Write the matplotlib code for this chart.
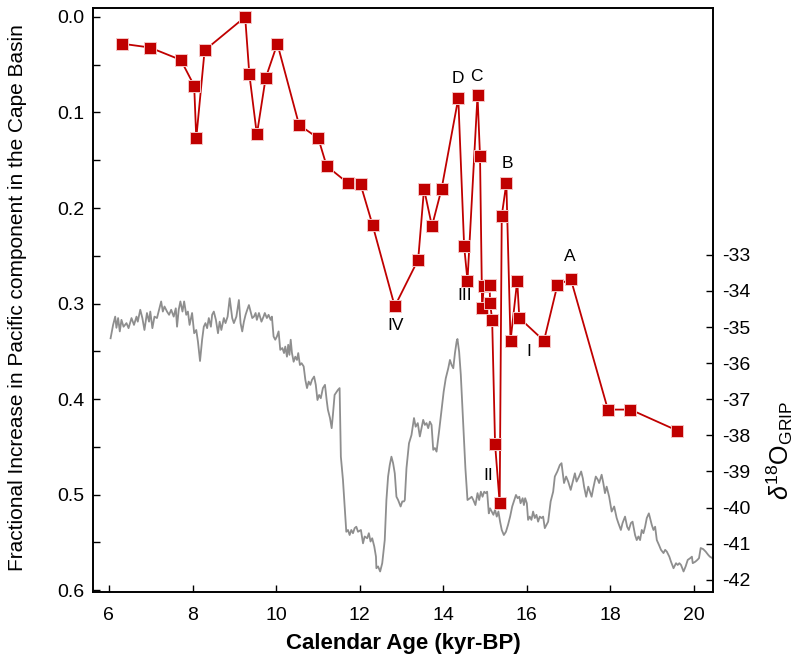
import matplotlib
matplotlib.use("Agg")
import matplotlib.pyplot as plt
from matplotlib.ticker import MultipleLocator, FixedLocator, FormatStrFormatter

plt.rcParams['font.family'] = ['Liberation Sans', 'DejaVu Sans']
plt.rcParams['mathtext.fontset'] = 'custom'
plt.rcParams['mathtext.rm'] = 'Liberation Sans'
plt.rcParams['mathtext.it'] = 'Liberation Sans:italic'

# Cape Basin Pacific component (left axis, inverted)
age_cape = [6.31, 6.98, 7.72, 8.04, 8.09, 8.29, 9.26, 9.36, 9.54, 9.75, 10.03,
            10.55, 11.01, 11.21, 11.72, 12.02, 12.31, 12.84, 13.40, 13.54, 13.73,
            13.96, 14.36, 14.50, 14.58, 14.82, 14.88, 14.93, 14.97, 15.11, 15.12,
            15.17, 15.24, 15.35, 15.40, 15.51, 15.61, 15.77, 15.82, 16.41, 16.73,
            17.05, 17.94, 18.48, 19.60]
pacific = [0.028, 0.032, 0.045, 0.072, 0.127, 0.035, 0.0, 0.060, 0.123, 0.064, 0.028,
           0.113, 0.127, 0.156, 0.174, 0.175, 0.218, 0.303, 0.254, 0.180, 0.219,
           0.180, 0.085, 0.240, 0.276, 0.082, 0.146, 0.305, 0.282, 0.281, 0.299,
           0.317, 0.447, 0.509, 0.208, 0.174, 0.339, 0.276, 0.315, 0.339, 0.281,
           0.274, 0.411, 0.411, 0.433]

event_labels = ['D', 'C', 'B', 'A', 'III', 'IV', 'II', 'I']
event_age = [14.36, 14.80, 15.54, 17.03, 14.52, 12.86, 15.07, 16.05]
event_val = [0.064, 0.062, 0.153, 0.251, 0.292, 0.3225, 0.4796, 0.3497]

# GRIP d18O (right axis)
age_grip = [6.04, 6.10, 6.15, 6.18, 6.22, 6.26, 6.30, 6.35, 6.42, 6.47, 6.54, 6.60,
            6.66, 6.69, 6.75, 6.80, 6.85, 6.91, 6.96, 6.99, 7.04, 7.09, 7.15, 7.20,
            7.25, 7.29, 7.33, 7.39, 7.44, 7.49, 7.55, 7.60, 7.63, 7.67, 7.71, 7.76,
            7.80, 7.85, 7.89, 7.93, 7.99, 8.04, 8.09, 8.13, 8.18, 8.23, 8.27, 8.31,
            8.35, 8.39, 8.44, 8.47, 8.51, 8.56, 8.61, 8.65, 8.69, 8.75, 8.79, 8.84,
            8.89, 8.95, 8.99, 9.05, 9.11, 9.15, 9.19, 9.23, 9.27, 9.31, 9.35, 9.39,
            9.43, 9.47, 9.51, 9.54, 9.59, 9.65, 9.70, 9.73, 9.78, 9.82, 9.87, 9.90,
            9.94, 9.98, 10.02, 10.06, 10.10, 10.15, 10.19, 10.22, 10.26, 10.29, 10.32,
            10.35, 10.38, 10.42, 10.46, 10.50, 10.53, 10.57, 10.61, 10.66, 10.70,
            10.74, 10.78, 10.82, 10.86, 10.91, 10.95, 10.99, 11.03, 11.07, 11.12,
            11.17, 11.21, 11.24, 11.29, 11.33, 11.36, 11.40, 11.45, 11.48, 11.52,
            11.55, 11.60, 11.64, 11.68, 11.72, 11.76, 11.80, 11.84, 11.88, 11.92,
            11.96, 12.03, 12.08, 12.12, 12.18, 12.22, 12.26, 12.30, 12.35, 12.39,
            12.40, 12.44, 12.49, 12.54, 12.60, 12.64, 12.68, 12.72, 12.76, 12.80,
            12.84, 12.88, 12.92, 12.98, 13.02, 13.06, 13.08, 13.12, 13.18, 13.24,
            13.30, 13.34, 13.39, 13.44, 13.48, 13.52, 13.56, 13.60, 13.64, 13.68,
            13.72, 13.76, 13.80, 13.84, 13.90, 13.96, 14.01, 14.06, 14.12, 14.16,
            14.20, 14.24, 14.28, 14.32, 14.34, 14.38, 14.42, 14.48, 14.53, 14.58,
            14.64, 14.68, 14.72, 14.77, 14.82, 14.86, 14.90, 14.94, 14.98, 15.02,
            15.05, 15.09, 15.12, 15.16, 15.20, 15.24, 15.28, 15.32, 15.36, 15.40,
            15.45, 15.50, 15.55, 15.60, 15.65, 15.70, 15.74, 15.78, 15.82, 15.85,
            15.90, 15.93, 15.96, 16.00, 16.03, 16.07, 16.11, 16.15, 16.19, 16.23,
            16.27, 16.31, 16.35, 16.39, 16.43, 16.47, 16.51, 16.57, 16.63, 16.67,
            16.73, 16.79, 16.83, 16.89, 16.94, 16.99, 17.05, 17.10, 17.15, 17.19,
            17.25, 17.30, 17.34, 17.37, 17.42, 17.47, 17.51, 17.55, 17.59, 17.65,
            17.70, 17.73, 17.79, 17.83, 17.87, 17.91, 17.97, 18.03, 18.09, 18.15,
            18.19, 18.25, 18.29, 18.35, 18.40, 18.44, 18.49, 18.53, 18.59, 18.63,
            18.67, 18.71, 18.75, 18.79, 18.83, 18.87, 18.92, 18.99, 19.03, 19.07,
            19.11, 19.16, 19.21, 19.27, 19.31, 19.35, 19.41, 19.45, 19.51, 19.57,
            19.61, 19.65, 19.69, 19.75, 19.80, 19.85, 19.91, 19.95, 19.97, 20.03,
            20.08, 20.12, 20.16, 20.22, 20.28, 20.34, 20.38, 20.44]
d18o = [-35.31, -34.94, -34.71, -35.02, -34.75, -35.12, -34.80, -34.99, -34.89, -35.03,
        -34.75, -34.94, -34.71, -34.85, -34.52, -34.75, -35.08, -34.61, -34.85, -34.57,
        -35.03, -34.71, -34.75, -34.52, -34.29, -34.57, -34.43, -34.57, -34.66, -34.52,
        -34.71, -34.48, -34.99, -34.52, -34.29, -34.57, -34.29, -34.66, -34.57, -34.94,
        -34.61, -35.17, -35.08, -35.40, -35.94, -35.35, -34.99, -34.89, -35.03, -34.75,
        -34.99, -34.66, -34.57, -34.80, -35.17, -34.85, -35.08, -34.75, -34.89, -34.71,
        -34.20, -34.75, -34.89, -34.71, -34.25, -34.89, -35.12, -34.85, -34.66, -34.52,
        -34.39, -34.57, -34.75, -34.71, -34.61, -34.80, -34.61, -34.85, -34.71, -34.61,
        -34.75, -34.66, -34.80, -34.71, -35.26, -35.35, -35.26, -35.12, -35.63, -35.58,
        -35.72, -35.54, -35.82, -35.49, -35.77, -35.35, -35.72, -35.96, -35.82, -35.91,
        -35.72, -36.05, -36.00, -36.09, -36.46, -36.69, -36.51, -36.60, -36.46, -36.37,
        -36.60, -37.02, -36.88, -36.97, -36.69, -36.60, -37.02, -37.29, -37.52, -37.80,
        -37.43, -36.88, -36.79, -36.74, -36.69, -38.59, -39.23, -39.97, -40.67, -40.62,
        -40.76, -40.62, -40.71, -40.57, -40.53, -40.67, -40.62, -40.99, -40.80, -40.85,
        -40.71, -40.94, -40.85, -41.08, -41.36, -41.68, -41.63, -41.77, -41.54, -40.90,
        -39.79, -39.14, -38.82, -38.59, -38.77, -39.05, -39.70, -39.79, -39.97, -39.83,
        -39.83, -39.79, -38.91, -38.22, -37.99, -37.52, -37.76, -37.66, -38.03, -37.80,
        -37.57, -37.71, -37.66, -37.80, -37.62, -37.71, -38.40, -38.35, -38.45, -37.89,
        -37.29, -36.79, -36.42, -36.14, -35.91, -36.05, -36.14, -35.72, -35.40, -35.33,
        -35.68, -36.32, -37.71, -38.91, -39.79, -39.74, -39.70, -39.79, -39.93, -39.60,
        -39.79, -39.56, -39.70, -39.56, -39.60, -39.56, -40.16, -40.02, -40.11, -40.20,
        -40.06, -40.25, -40.11, -40.39, -40.62, -40.76, -40.67, -40.48, -40.25, -39.97,
        -39.79, -39.65, -39.74, -39.70, -39.88, -39.74, -39.93, -39.74, -39.88, -40.34,
        -40.25, -40.34, -40.11, -40.29, -40.20, -40.39, -40.25, -40.29, -40.25, -40.57,
        -40.48, -40.39, -39.83, -39.56, -39.14, -39.00, -38.82, -38.77, -39.32, -39.14,
        -39.28, -39.51, -39.28, -39.05, -39.28, -39.14, -39.00, -39.19, -39.42, -39.70,
        -39.42, -39.56, -39.70, -39.46, -39.14, -39.23, -39.32, -39.09, -39.32, -39.60,
        -39.42, -39.70, -40.11, -39.97, -40.29, -40.43, -40.62, -40.43, -40.25, -40.53,
        -40.62, -40.43, -40.39, -40.76, -40.90, -40.80, -40.90, -40.62, -40.71, -40.53,
        -40.29, -40.16, -40.48, -40.62, -40.53, -40.90, -41.03, -41.17, -41.26, -41.17,
        -41.22, -41.36, -41.50, -41.68, -41.54, -41.59, -41.54, -41.59, -41.77, -41.63,
        -41.45, -41.40, -41.36, -41.54, -41.50, -41.45, -41.40, -41.12, -41.15, -41.22,
        -41.31, -41.36, -41.40]

grip_ticks = [-33, -34, -35, -36, -37, -38, -39, -40, -41, -42]

fig = plt.figure(figsize=(8, 6.63), dpi=100)
ax = fig.add_axes([0.1163, 0.107, 0.7747, 0.881])
ax2 = ax.twinx()

ax2.plot(age_grip, d18o, color='#8e8e8e', lw=1.3)
ax2.set_ylim(-42.34, -26.16)
ax2.yaxis.set_major_locator(FixedLocator(grip_ticks))
ax2.set_yticklabels([str(t) for t in grip_ticks])
ax2.tick_params(axis='y', direction='in', length=5, width=1, labelsize=14, pad=7)
ax2.set_ylabel(r'$\delta^{18}$O$_{\mathrm{GRIP}}$', fontsize=18)
ax2.yaxis.set_label_coords(1.084, 0.243)

ax.set_zorder(ax2.get_zorder() + 1)
ax.patch.set_visible(False)

ax.plot(age_cape, pacific, color='#c00000', lw=1.3, marker='s', markersize=8,
        markerfacecolor='#c00000', markeredgecolor='#f4c4c4', markeredgewidth=0.7)
for lab, xa, ya in zip(event_labels, event_age, event_val):
    ax.text(xa, ya, lab, ha='center', va='center', fontsize=12.5)

ax.set_xlim(5.62, 20.45)
ax.set_ylim(0.602, -0.0094)
ax.xaxis.set_major_locator(MultipleLocator(2))
ax.yaxis.set_major_locator(MultipleLocator(0.1))
ax.yaxis.set_minor_locator(MultipleLocator(0.05))
ax.yaxis.set_major_formatter(FormatStrFormatter('%.1f'))
ax.tick_params(axis='both', which='major', direction='in', length=5, width=1, labelsize=14)
ax.tick_params(axis='y', which='minor', direction='in', length=5, width=1)
ax.tick_params(axis='y', pad=6)
ax.tick_params(axis='x', pad=11)

ax.set_xlabel('Calendar Age (kyr-BP)', fontsize=16, fontweight='bold', labelpad=6)
ax.set_ylabel('Fractional Increase in Pacific component in the Cape Basin', fontsize=15)
ax.yaxis.set_label_coords(-0.106, 0.505)

for sp in ax.spines.values():
    sp.set_linewidth(1.2)
for sp in ax2.spines.values():
    sp.set_linewidth(1.2)

fig.savefig('out.png', dpi=100)
